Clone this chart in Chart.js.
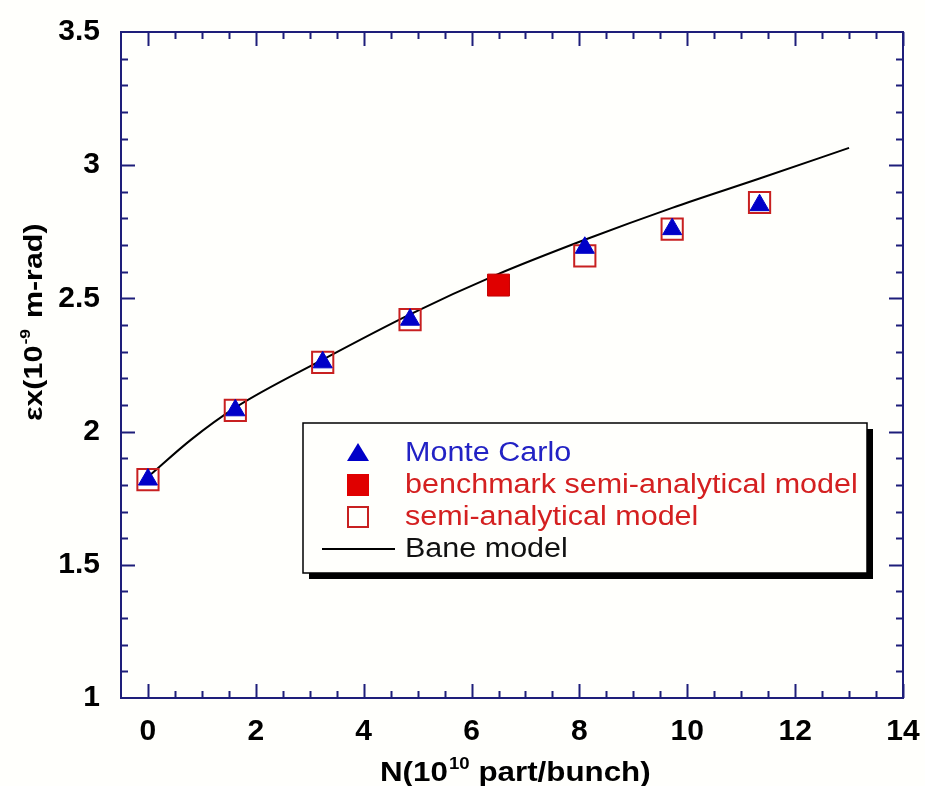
<!DOCTYPE html>
<html>
<head>
<meta charset="utf-8">
<script src="https://cdn.jsdelivr.net/npm/chart.js@4"></script>
<style>
  body { margin: 0; background: #fffffc; }
  canvas { display: block; }
</style>
</head>
<body>
<canvas id="emitChart" width="925" height="786"></canvas>
<script>
// N in units of 10^10 particles per bunch, emittance in 10^-9 m-rad
const mcN = [0, 1.62, 3.24, 4.86, 8.1, 9.72, 11.34];
const mcEps = [1.82, 2.08, 2.26, 2.42, 2.69, 2.76, 2.85];

const benchN = [6.5];
const benchEps = [2.55];

const semiN = [0, 1.62, 3.24, 4.86, 8.1, 9.72, 11.34];
const semiEps = [1.82, 2.08, 2.26, 2.42, 2.66, 2.76, 2.86];

const baneN = [0, 0.8, 1.62, 3.24, 4.86, 6.48, 8.1, 9.72, 11.34, 13];
const baneEps = [1.83, 1.97, 2.09, 2.27, 2.44, 2.59, 2.72, 2.84, 2.95, 3.065];

const xTicks = [0, 2, 4, 6, 8, 10, 12, 14];
const yTicks = [1, 1.5, 2, 2.5, 3, 3.5];

const toPoints = (xs, ys) => xs.map((x, i) => ({ x: x, y: ys[i] }));

const FONT = 'Arial, "Liberation Sans", sans-serif';
const FRAME = '#1e1e7a';

// frame with inward ticks, axis titles and the boxed legend
const decorPlugin = {
    id: 'decor',
    afterDraw(chart) {
        const ctx = chart.ctx;
        const a = chart.chartArea;
        const xs = chart.scales.x;
        const ys = chart.scales.y;
        ctx.save();
        ctx.strokeStyle = FRAME;
        ctx.lineWidth = 2;
        ctx.strokeRect(a.left, a.top, a.right - a.left, a.bottom - a.top);

        ctx.beginPath();
        for (let v = 0; v <= 14.001; v += 0.5) {
            const px = Math.round(xs.getPixelForValue(v)) + 0.5;
            const len = Math.abs(v % 2) < 1e-6 ? 14 : 7;
            ctx.moveTo(px, a.bottom); ctx.lineTo(px, a.bottom - len);
            ctx.moveTo(px, a.top); ctx.lineTo(px, a.top + len);
        }
        for (let i = 1; i < 25; i++) {
            const v = 1 + i * 0.1;
            const py = Math.round(ys.getPixelForValue(v)) + 0.5;
            const len = i % 5 === 0 ? 14 : 7;
            ctx.moveTo(a.left, py); ctx.lineTo(a.left + len, py);
            ctx.moveTo(a.right, py); ctx.lineTo(a.right - len, py);
        }
        ctx.stroke();

        // x title with superscript
        ctx.fillStyle = '#000';
        ctx.textBaseline = 'alphabetic';
        ctx.textAlign = 'left';
        ctx.save();
        ctx.translate(380, 781);
        ctx.scale(1.16, 1);
        let x = 0;
        ctx.font = 'bold 27px ' + FONT;
        ctx.fillText('N(10', x, 0); x += ctx.measureText('N(10').width;
        ctx.font = 'bold 16px ' + FONT;
        ctx.fillText('10', x + 1, -12); x += ctx.measureText('10').width + 1;
        ctx.font = 'bold 27px ' + FONT;
        ctx.fillText(' part/bunch)', x, 0);
        ctx.restore();

        // y title, rotated
        ctx.save();
        ctx.translate(42, 421);
        ctx.rotate(-Math.PI / 2);
        ctx.scale(1.17, 1);
        x = 0;
        ctx.font = 'bold 26px ' + FONT;
        ctx.fillText('\u03b5x(10', x, 0); x += ctx.measureText('\u03b5x(10').width;
        ctx.font = 'bold 15px ' + FONT;
        ctx.fillText('-9', x + 1, -12); x += ctx.measureText('-9').width + 3;
        ctx.font = 'bold 26px ' + FONT;
        ctx.fillText(' m-rad)', x, 0);
        ctx.restore();

        // legend box with drop shadow
        const bx = 303, by = 423, bw = 564, bh = 150;
        ctx.fillStyle = '#000';
        ctx.fillRect(bx + 6, by + 6, bw, bh);
        ctx.fillStyle = '#fffffc';
        ctx.fillRect(bx, by, bw, bh);
        ctx.strokeStyle = '#000';
        ctx.lineWidth = 1.5;
        ctx.strokeRect(bx, by, bw, bh);

        const mx = 358;
        const rows = [453, 485, 517, 549];
        // triangle
        ctx.fillStyle = '#0000c8';
        ctx.beginPath();
        ctx.moveTo(mx, rows[0] - 10);
        ctx.lineTo(mx + 11, rows[0] + 8);
        ctx.lineTo(mx - 11, rows[0] + 8);
        ctx.closePath();
        ctx.fill();
        // filled square
        ctx.fillStyle = '#e00000';
        ctx.fillRect(mx - 11, rows[1] - 11, 22, 22);
        // open square
        ctx.strokeStyle = '#c82020';
        ctx.lineWidth = 2;
        ctx.strokeRect(mx - 10, rows[2] - 10, 20, 20);
        // line
        ctx.strokeStyle = '#000';
        ctx.beginPath();
        ctx.moveTo(322, rows[3]); ctx.lineTo(395, rows[3]);
        ctx.stroke();

        const labels = ['Monte Carlo', 'benchmark semi-analytical model', 'semi-analytical model', 'Bane model'];
        const colors = ['#2222c4', '#d42020', '#d42020', '#111'];
        ctx.font = '27px ' + FONT;
        ctx.textBaseline = 'middle';
        labels.forEach((t, i) => {
            ctx.save();
            ctx.translate(405, rows[i] + 1);
            ctx.scale(1.13, 1);
            ctx.fillStyle = colors[i];
            ctx.fillText(t, 0, 0);
            ctx.restore();
        });
        ctx.restore();
    }
};

const emitChart = new Chart(document.getElementById('emitChart'), {
    type: 'scatter',
    data: {
        datasets: [
            {
                label: 'Monte Carlo',
                data: toPoints(mcN, mcEps),
                pointStyle: 'triangle',
                pointRadius: 11,
                backgroundColor: '#0000c8',
                borderColor: '#0000c8',
                borderWidth: 1,
                order: 0
            },
            {
                label: 'semi-analytical model',
                data: toPoints(semiN, semiEps),
                pointStyle: 'rect',
                pointRadius: 15,
                backgroundColor: 'rgba(0,0,0,0)',
                borderColor: '#c82020',
                borderWidth: 2,
                order: 1
            },
            {
                label: 'benchmark semi-analytical model',
                data: toPoints(benchN, benchEps),
                pointStyle: 'rect',
                pointRadius: 15.5,
                backgroundColor: '#e00000',
                borderColor: '#c40000',
                borderWidth: 1,
                order: 2
            },
            {
                label: 'Bane model',
                type: 'line',
                data: toPoints(baneN, baneEps),
                showLine: true,
                pointRadius: 0,
                borderColor: '#000',
                borderWidth: 2,
                cubicInterpolationMode: 'monotone',
                order: 3
            }
        ]
    },
    options: {
        responsive: false,
        devicePixelRatio: 1,
        animation: false,
        layout: { padding: { left: 0, top: 32, right: 22, bottom: 0 } },
        plugins: {
            legend: { display: false },
            tooltip: { enabled: false }
        },
        scales: {
            x: {
                type: 'linear',
                min: -0.5,
                max: 14,
                afterBuildTicks: s => { s.ticks = xTicks.map(v => ({ value: v })); },
                afterFit: s => {
                    s.height = 88;
                    s.paddingLeft = 0; s.paddingRight = 0;
                },
                grid: { display: false, drawTicks: false },
                border: { display: false },
                ticks: {
                    padding: 16,
                    color: '#000',
                    maxRotation: 0,
                    font: { family: FONT, size: 30, weight: 'bold' }
                }
            },
            y: {
                type: 'linear',
                min: 1,
                max: 3.5,
                afterBuildTicks: s => { s.ticks = yTicks.map(v => ({ value: v })); },
                afterFit: s => {
                    s.width = 121;
                    s.paddingTop = 0; s.paddingBottom = 0;
                },
                grid: { display: false, drawTicks: false },
                border: { display: false },
                ticks: {
                    padding: 21,
                    color: '#000',
                    callback: v => String(v),
                    font: { family: FONT, size: 30, weight: 'bold' }
                }
            }
        }
    },
    plugins: [decorPlugin]
});
</script>
</body>
</html>
